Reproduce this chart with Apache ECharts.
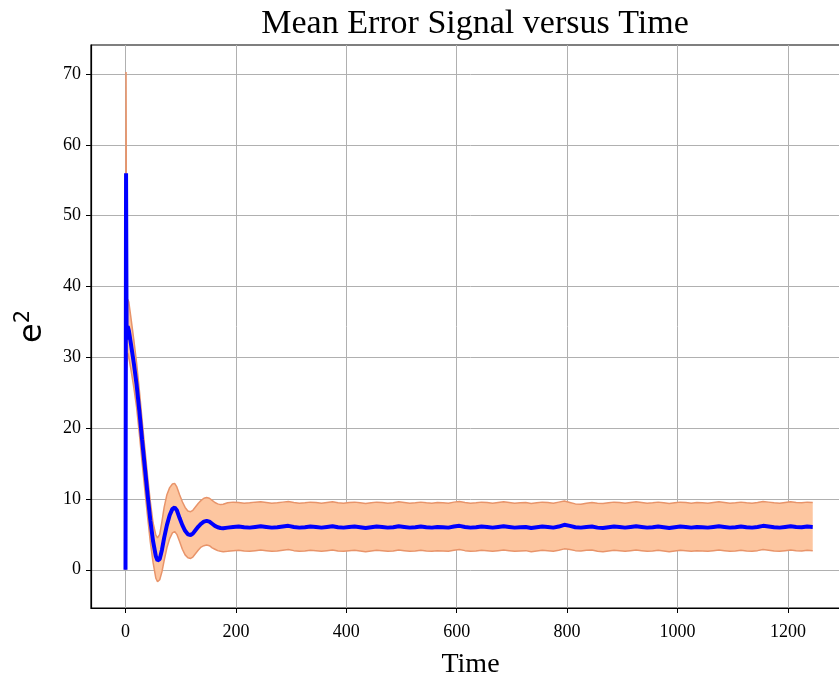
<!DOCTYPE html>
<html>
<head>
<meta charset="utf-8">
<script src="https://cdn.jsdelivr.net/npm/echarts@6/dist/echarts.min.js"></script>
<style>
  html, body { margin: 0; padding: 0; background: #ffffff; overflow: hidden; }
  #chart { width: 850px; height: 678px; }
</style>
</head>
<body>
<div id="chart"></div>
<script>
// Time steps of the transient part of the run
const earlyTime = [0, 1, 2, 4, 6, 10, 15, 20, 25, 30, 35, 40, 45, 50, 55, 58, 62, 66, 70, 75,
  80, 85, 89, 93, 98, 103, 108, 113, 118, 122, 127, 132, 137, 142, 147, 152, 157, 162, 167, 172, 177];
const earlyMean = [0, 56, 32.5, 34.4, 33.8, 31.8, 29.2, 26.2, 22.5, 18.4, 14.5, 10.6, 7.0, 4.0, 1.9, 1.3, 1.5, 2.8, 4.5, 6.3,
  7.7, 8.6, 8.8, 8.4, 7.3, 6.3, 5.5, 5.0, 4.9, 5.1, 5.6, 6.1, 6.5, 6.8, 6.9, 6.8, 6.5, 6.2, 6.0, 5.9, 5.85];
const earlyUpper = [0, 70.3, 37.0, 38.2, 37.8, 35.5, 32.5, 29.3, 25.4, 21.2, 17.2, 13.2, 9.6, 6.6, 4.9, 4.5, 5.0, 6.8, 8.8, 10.6,
  11.6, 12.1, 12.2, 11.7, 10.6, 9.6, 8.8, 8.3, 8.2, 8.4, 8.9, 9.4, 9.8, 10.1, 10.2, 10.1, 9.8, 9.5, 9.3, 9.2, 9.25];
const earlyLower = [0, 17.5, 28.0, 30.6, 30.0, 28.2, 25.8, 23.0, 19.3, 15.2, 11.3, 7.5, 3.9, 1.0, -1.2, -1.7, -1.4, -0.3, 1.3, 3.1,
  4.4, 5.2, 5.4, 5.0, 4.0, 2.9, 2.1, 1.7, 1.6, 1.8, 2.3, 2.8, 3.2, 3.4, 3.5, 3.4, 3.1, 2.9, 2.7, 2.6, 2.55];

// Steady-state part, sampled every 10 steps from t = 185 to t = 1245
const tailStart = 185, tailStep = 10;
const tailMean = [
  5.95, 6.05, 6.10, 6.00, 5.95, 6.05, 6.15, 6.05, 5.95, 6.00,
  6.10, 6.20, 6.05, 5.95, 6.00, 6.10, 6.05, 5.95, 6.05, 6.15,
  6.00, 5.95, 6.05, 6.10, 6.00, 5.90, 6.00, 6.10, 6.05, 5.95,
  6.00, 6.15, 6.05, 5.95, 6.00, 6.10, 6.00, 5.95, 6.05, 6.00,
  5.95, 6.10, 6.20, 6.05, 5.95, 6.00, 6.10, 6.05, 5.95, 6.05,
  6.15, 6.05, 5.95, 6.00, 6.05, 5.90, 6.00, 6.10, 6.05, 5.95,
  6.10, 6.35, 6.20, 6.00, 5.95, 6.05, 6.10, 5.95, 5.90, 6.00,
  6.10, 6.05, 5.95, 6.05, 6.15, 6.05, 5.95, 6.00, 6.10, 6.00,
  5.90, 6.00, 6.10, 6.05, 5.95, 6.05, 6.00, 5.95, 6.05, 6.15,
  6.05, 5.95, 6.00, 6.10, 6.00, 5.95, 6.05, 6.20, 6.10, 6.00,
  5.95, 6.05, 6.15, 6.05, 6.00, 6.10, 6.05];
const tailUpper = [
  9.45, 9.55, 9.50, 9.40, 9.45, 9.55, 9.60, 9.50, 9.40, 9.45,
  9.55, 9.65, 9.50, 9.40, 9.45, 9.55, 9.50, 9.40, 9.50, 9.60,
  9.45, 9.40, 9.50, 9.55, 9.45, 9.35, 9.45, 9.55, 9.50, 9.40,
  9.45, 9.60, 9.50, 9.40, 9.45, 9.55, 9.45, 9.40, 9.50, 9.45,
  9.40, 9.55, 9.65, 9.50, 9.40, 9.45, 9.55, 9.50, 9.40, 9.50,
  9.60, 9.50, 9.40, 9.45, 9.50, 9.35, 9.45, 9.55, 9.50, 9.40,
  9.55, 9.70, 9.50, 9.30, 9.25, 9.40, 9.50, 9.40, 9.35, 9.45,
  9.55, 9.50, 9.40, 9.50, 9.60, 9.50, 9.40, 9.45, 9.55, 9.45,
  9.35, 9.45, 9.55, 9.50, 9.40, 9.50, 9.45, 9.40, 9.50, 9.60,
  9.50, 9.40, 9.45, 9.55, 9.45, 9.40, 9.50, 9.65, 9.55, 9.45,
  9.40, 9.50, 9.60, 9.50, 9.45, 9.55, 9.50];
const tailLower = [
  2.60, 2.70, 2.75, 2.65, 2.60, 2.70, 2.80, 2.70, 2.60, 2.65,
  2.75, 2.85, 2.70, 2.60, 2.65, 2.75, 2.70, 2.60, 2.70, 2.80,
  2.65, 2.60, 2.70, 2.75, 2.65, 2.55, 2.65, 2.75, 2.70, 2.60,
  2.65, 2.80, 2.70, 2.60, 2.65, 2.75, 2.65, 2.60, 2.70, 2.65,
  2.60, 2.75, 2.85, 2.70, 2.60, 2.65, 2.75, 2.70, 2.60, 2.70,
  2.80, 2.70, 2.60, 2.65, 2.70, 2.55, 2.65, 2.75, 2.70, 2.60,
  2.75, 2.95, 2.85, 2.70, 2.65, 2.75, 2.80, 2.60, 2.55, 2.65,
  2.75, 2.70, 2.60, 2.70, 2.80, 2.70, 2.60, 2.65, 2.75, 2.65,
  2.55, 2.65, 2.75, 2.70, 2.60, 2.70, 2.65, 2.60, 2.70, 2.80,
  2.70, 2.60, 2.65, 2.75, 2.65, 2.60, 2.70, 2.85, 2.75, 2.65,
  2.60, 2.70, 2.80, 2.70, 2.65, 2.75, 2.70];

const xTicks = [0, 200, 400, 600, 800, 1000, 1200];
const yTicks = [0, 10, 20, 30, 40, 50, 60, 70];

// Assemble [time, value] pairs
const time = earlyTime.slice();
tailMean.forEach((_, i) => time.push(tailStart + i * tailStep));
const meanVals = earlyMean.concat(tailMean);
const upperVals = earlyUpper.concat(tailUpper);
const lowerVals = earlyLower.concat(tailLower);

const meanData = time.map((t, i) => [t, meanVals[i]]);
const upperData = time.map((t, i) => [t, upperVals[i]]);
const lowerData = time.map((t, i) => [t, lowerVals[i]]);
const bandData = time.map((t, i) => [t, lowerVals[i], upperVals[i]]);

const serif = '"Liberation Serif", "DejaVu Serif", serif';
const bandFill = '#fdc6a0';
const bandEdge = '#e8946a';

const chart = echarts.init(document.getElementById('chart'), null, { renderer: 'canvas' });

chart.setOption({
  animation: false,
  backgroundColor: '#ffffff',
  title: {
    text: 'Mean Error Signal versus Time',
    left: 470, top: 2, textAlign: 'center',
    textStyle: { fontFamily: serif, fontSize: 34, fontWeight: 'normal', color: '#000' }
  },
  grid: {
    left: 91, right: 0, top: 45, bottom: 70,
    outerBoundsMode: 'none', containLabel: false,
    show: true, borderColor: '#000', borderWidth: 1.2
  },
  xAxis: {
    type: 'value', min: -62.5, max: 1312.5,
    name: 'Time', nameLocation: 'middle', nameGap: 43,
    nameTextStyle: { fontFamily: serif, fontSize: 28, color: '#000' },
    axisLine: { show: true, onZero: false, lineStyle: { color: '#000', width: 1.2 } },
    axisTick: { show: true, inside: false, length: 5, customValues: xTicks, lineStyle: { color: '#000' } },
    axisLabel: { customValues: xTicks, formatter: v => String(v), fontFamily: serif, fontSize: 18, color: '#000', margin: 15 },
    splitLine: { show: true, lineStyle: { color: '#b0b0b0', width: 1 } }
  },
  yAxis: {
    type: 'value', min: -5.4, max: 74.1,
    name: '{e|e}{s|2}', nameLocation: 'middle', nameGap: 38, nameRotate: 90,
    nameTextStyle: {
      fontFamily: '"DejaVu Sans", sans-serif', color: '#000',
      rich: {
        e: { fontFamily: '"DejaVu Sans", sans-serif', fontSize: 32, lineHeight: 40 },
        s: { fontFamily: '"DejaVu Sans", sans-serif', fontSize: 21, verticalAlign: 'top', lineHeight: 40 }
      }
    },
    axisLine: { show: true, onZero: false, lineStyle: { color: '#000', width: 1.2 } },
    axisTick: { show: true, inside: false, length: 5, customValues: yTicks, lineStyle: { color: '#000' } },
    axisLabel: { customValues: yTicks, fontFamily: serif, fontSize: 18, color: '#000', margin: 10 },
    splitLine: { show: true, lineStyle: { color: '#b0b0b0', width: 1 } }
  },
  series: [
    {
      // shaded band between lower and upper bounds
      type: 'custom',
      data: bandData,
      encode: { x: 0, y: [1, 2] },
      silent: true,
      z: 1,
      renderItem: function (params, api) {
        if (params.dataIndex !== 0) return null;
        const pts = [];
        for (let i = 0; i < bandData.length; i++) pts.push(api.coord([bandData[i][0], bandData[i][2]]));
        for (let i = bandData.length - 1; i >= 0; i--) pts.push(api.coord([bandData[i][0], bandData[i][1]]));
        return {
          type: 'polygon',
          shape: { points: pts },
          style: { fill: bandFill, stroke: null }
        };
      }
    },
    {
      type: 'line', data: upperData, showSymbol: false, z: 2, silent: true,
      lineStyle: { color: bandEdge, width: 1.5 }
    },
    {
      type: 'line', data: lowerData, showSymbol: false, z: 2, silent: true,
      lineStyle: { color: bandEdge, width: 1.5 }
    },
    {
      type: 'line', data: meanData, showSymbol: false, z: 3, silent: true,
      lineStyle: { color: '#0000ff', width: 4 }
    }
  ]
});
</script>
</body>
</html>
